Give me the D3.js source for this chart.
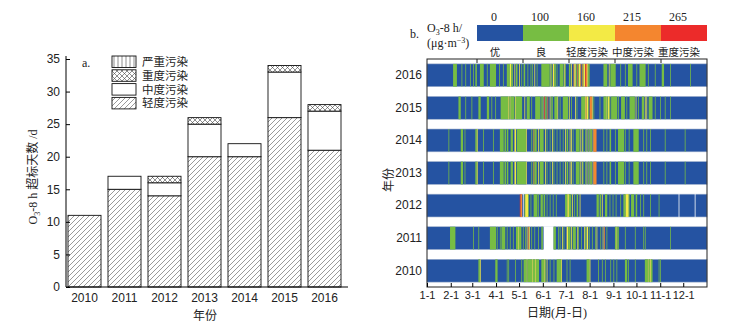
<!DOCTYPE html>
<html>
<head>
<meta charset="utf-8">
<script src="https://cdn.jsdelivr.net/npm/d3@7"></script>
<style>
  body { margin: 0; background: #fff; }
  svg { display: block; font-family: "Liberation Serif", "Times New Roman", "Noto Sans CJK SC", serif; }
  text { fill: #222; }
</style>
</head>
<body>
<svg id="chart" width="752" height="326"></svg>
<script>
// ---- panel a: exceedance days per year ----
const years = ['2010', '2011', '2012', '2013', '2014', '2015', '2016']
const lightDays = [11, 15, 14, 20, 20, 26, 21]
const moderateDays = [0, 2, 2, 5, 2, 7, 6]
const heavyDays = [0, 0, 1, 1, 0, 1, 1]
const severeDays = [0, 0, 0, 0, 0, 0, 0]
const yTicks = [0, 5, 10, 15, 20, 25, 30, 35]
const legendA = ['严重污染', '重度污染', '中度污染', '轻度污染']

// ---- panel b: daily O3-8h level, runs of [firstDay, lastDay, level] ----
// level 0 = missing, 1 = 良, 2 = 轻度污染, 3 = 中度污染, 4 = 重度污染 (rest of the year = 优)
const levelNames = ['优', '良', '轻度污染', '中度污染', '重度污染']
const levelBreaks = ['0', '100', '160', '215', '265']
const monthLabels = ['1-1', '2-1', '3-1', '4-1', '5-1', '6-1', '7-1', '8-1', '9-1', '10-1', '11-1', '12-1']
const monthStart = [0, 31, 59, 90, 120, 151, 181, 212, 243, 273, 304, 334]

const d2016 = [[34,38,1],[45,45,1],[50,50,1],[56,56,1],[60,60,1],[63,64,1],[69,73,1],[78,78,1],[82,89,1],[94,94,1],[99,99,1],[104,107,1],[108,109,2],[110,111,1],[114,114,2],[116,117,1],[120,120,2],[123,123,1],[126,127,1],[131,131,1],[135,135,1],[137,137,1],[140,140,2],[143,143,1],[149,159,1],[161,161,2],[162,162,1],[164,165,2],[166,167,1],[169,169,1],[173,177,1],[179,179,2],[180,180,1],[185,186,1],[188,188,2],[191,191,3],[192,193,2],[194,194,1],[196,196,3],[197,197,1],[198,199,2],[200,200,3],[202,202,3],[203,203,1],[204,205,2],[206,206,4],[207,208,3],[209,209,2],[210,211,1],[230,234,1],[237,237,2],[239,245,1],[252,252,1],[258,258,1],[262,267,1],[273,273,1],[277,284,1],[288,288,1],[297,297,1],[306,308,1],[317,317,1],[343,343,1]]
const d2015 = [[41,43,1],[50,50,1],[58,58,1],[67,69,1],[78,80,1],[84,84,1],[89,89,1],[96,105,1],[106,106,2],[107,107,1],[108,108,2],[109,113,1],[115,115,2],[116,123,1],[127,127,2],[130,133,1],[136,136,1],[141,147,1],[149,150,1],[152,152,2],[153,153,4],[154,155,1],[157,157,3],[160,160,2],[162,163,1],[166,169,1],[170,170,2],[173,173,1],[177,183,1],[185,185,2],[188,188,1],[193,193,2],[195,195,1],[201,205,1],[206,206,2],[207,207,3],[208,209,2],[210,210,1],[212,214,3],[215,215,2],[217,217,1],[225,225,1],[230,233,1],[234,234,2],[235,235,1],[236,237,2],[238,238,1],[240,247,1],[249,249,1],[253,257,1],[260,260,1],[264,270,1],[272,272,2],[275,275,1],[280,282,1],[284,284,2],[286,286,2],[289,293,1],[297,297,1],[304,304,1],[310,310,1],[317,317,1]]
const d2014 = [[28,28,1],[44,46,1],[49,49,1],[63,64,1],[65,65,2],[73,73,1],[86,86,1],[95,99,1],[101,102,1],[104,105,1],[109,111,1],[114,115,2],[117,128,1],[129,129,2],[136,136,1],[138,138,1],[139,139,3],[140,142,1],[145,145,2],[147,151,1],[154,154,2],[156,156,1],[160,160,1],[163,163,2],[165,165,1],[169,169,1],[173,173,1],[177,177,1],[180,180,2],[182,183,1],[186,186,2],[188,188,2],[190,190,1],[194,198,1],[200,200,2],[202,202,2],[203,203,1],[206,206,1],[208,208,2],[210,210,1],[212,212,2],[213,214,1],[216,216,2],[217,220,3],[230,230,1],[234,234,1],[238,239,1],[245,245,1],[249,256,1],[258,258,1],[263,263,1],[269,275,1],[282,282,1],[286,286,1],[291,291,1],[310,310,1],[336,336,1]]
const d2013 = [[28,28,1],[44,46,1],[49,49,1],[63,64,1],[65,65,2],[73,73,1],[86,86,1],[95,99,1],[101,102,1],[104,105,1],[109,111,1],[114,115,2],[117,128,1],[129,129,2],[136,136,1],[138,138,1],[139,139,3],[140,142,1],[145,145,2],[147,151,1],[154,154,2],[156,156,1],[160,160,1],[163,163,2],[165,165,1],[169,169,1],[173,173,1],[177,177,1],[180,180,2],[182,183,1],[186,186,2],[188,188,2],[190,190,1],[194,198,1],[200,200,2],[202,202,2],[203,203,1],[206,206,1],[208,208,2],[210,210,1],[212,212,2],[213,214,1],[216,216,2],[217,220,3],[230,230,1],[234,234,1],[238,239,1],[245,245,1],[249,256,1],[258,258,1],[263,263,1],[269,275,1],[282,282,1],[286,286,1],[291,291,1],[310,310,1],[336,336,1]]
const d2012 = [[121,121,4],[122,123,3],[125,125,0],[127,127,1],[128,131,2],[132,132,1],[135,135,1],[139,143,1],[145,145,1],[148,150,1],[152,153,1],[156,156,1],[160,160,1],[164,164,1],[168,168,1],[180,182,1],[183,184,2],[185,187,1],[189,189,2],[192,192,1],[195,196,1],[199,199,2],[221,223,1],[225,226,1],[228,228,2],[232,234,1],[238,238,1],[242,242,1],[246,246,1],[252,252,1],[256,258,1],[259,262,2],[263,263,1],[266,269,1],[272,273,1],[278,278,1],[282,282,1],[291,291,1],[302,302,1],[328,328,0],[349,349,0]]
const d2011 = [[30,36,1],[60,60,1],[67,67,1],[82,89,1],[91,91,1],[95,95,1],[97,101,1],[104,104,1],[108,108,1],[112,112,1],[116,118,1],[119,119,2],[120,122,1],[125,125,1],[128,128,1],[130,130,2],[132,132,3],[133,133,2],[136,136,1],[140,140,1],[145,145,1],[149,150,1],[152,164,0],[165,167,1],[171,171,1],[173,173,1],[176,176,2],[178,178,1],[182,183,2],[184,186,1],[188,188,2],[190,193,1],[196,196,2],[197,197,1],[201,201,1],[205,205,2],[206,206,1],[208,209,2],[211,211,1],[215,215,1],[219,219,1],[221,221,2],[226,226,1],[229,229,2],[231,231,3],[234,234,1],[245,246,1],[247,247,2],[248,249,1],[258,258,1],[271,271,1],[282,282,1],[284,284,1],[317,317,1]]
const d2010 = [[67,68,1],[69,69,2],[89,91,1],[104,104,1],[106,106,1],[115,115,1],[123,123,1],[126,129,1],[130,130,2],[131,136,1],[137,137,2],[138,140,1],[141,141,2],[142,145,1],[149,152,1],[153,153,2],[154,154,1],[156,156,2],[160,160,1],[165,165,1],[169,174,1],[175,175,2],[182,182,1],[186,186,1],[208,211,1],[212,212,2],[223,223,1],[228,228,1],[232,232,1],[239,239,1],[243,243,1],[247,247,1],[258,260,1],[262,262,1],[271,271,1],[284,287,1],[288,288,2],[289,290,1],[291,291,2],[292,293,1],[302,302,1],[304,304,1]]
const rowYears = ['2016', '2015', '2014', '2013', '2012', '2011', '2010']
const rowData = [d2016, d2015, d2014, d2013, d2012, d2011, d2010]

const levelColors = ['#ffffff', '#77bd43', '#f3ea45', '#f4862f', '#ec2b2a']
const blue = '#2553a2'

const svg = d3.select('#chart')
const defs = svg.append('defs')

// hatch patterns for panel a
const pLight = defs.append('pattern').attr('id', 'pLight')
    .attr('patternUnits', 'userSpaceOnUse').attr('width', 5).attr('height', 5)
pLight.append('rect').attr('width', 5).attr('height', 5).attr('fill', '#fff')
pLight.append('path').attr('d', 'M0,5L5,0M-1,1L1,-1M4,6L6,4')
    .attr('stroke', '#555').attr('stroke-width', 0.6)

const pHeavy = defs.append('pattern').attr('id', 'pHeavy')
    .attr('patternUnits', 'userSpaceOnUse').attr('width', 5).attr('height', 5)
pHeavy.append('rect').attr('width', 5).attr('height', 5).attr('fill', '#fff')
pHeavy.append('path').attr('d', 'M0,5L5,0M-1,1L1,-1M4,6L6,4M0,0L5,5M-1,4L1,6M4,-1L6,1')
    .attr('stroke', '#444').attr('stroke-width', 0.6)

const pSevere = defs.append('pattern').attr('id', 'pSevere')
    .attr('patternUnits', 'userSpaceOnUse').attr('width', 4).attr('height', 4)
pSevere.append('rect').attr('width', 4).attr('height', 4).attr('fill', '#fff')
pSevere.append('path').attr('d', 'M2,0L2,4').attr('stroke', '#444').attr('stroke-width', 0.6)

const fills = {light: 'url(#pLight)', moderate: '#fff', heavy: 'url(#pHeavy)', severe: 'url(#pSevere)'}

// ================= panel a =================
const x = d3.scaleBand().domain(years).range([66, 343]).paddingInner(0.175).paddingOuter(0.05)
const y = d3.scaleLinear().domain([0, 35]).range([287, 59])

const table = years.map((yr, i) => ({
    year: yr, light: lightDays[i], moderate: moderateDays[i], heavy: heavyDays[i], severe: severeDays[i]
}))
const series = d3.stack().keys(['light', 'moderate', 'heavy', 'severe'])(table)

const ga = svg.append('g')
ga.selectAll('g.layer')
    .data(series)
    .join('g')
    .attr('class', 'layer')
    .attr('fill', d => fills[d.key])
    .selectAll('rect')
    .data(d => d.filter(s => s[1] > s[0]))
    .join('rect')
    .attr('x', d => x(d.data.year))
    .attr('y', d => y(d[1]))
    .attr('width', x.bandwidth())
    .attr('height', d => y(d[0]) - y(d[1]))
    .attr('stroke', '#111')
    .attr('stroke-width', 0.9)

const yAxis = ga.append('g').attr('transform', 'translate(66,0)')
    .call(d3.axisLeft(y).tickValues(yTicks).tickSizeInner(-4).tickSizeOuter(0).tickPadding(6))
yAxis.select('.domain').attr('d', 'M0,287V56')
yAxis.selectAll('text').style('font-size', '12px')

const xAxis = ga.append('g').attr('transform', 'translate(0,287)')
    .call(d3.axisBottom(x).tickSize(0).tickPadding(6))
xAxis.select('.domain').attr('d', 'M66,0H348')
xAxis.selectAll('text').style('font-size', '12px')

ga.append('text').attr('x', 205).attr('y', 320).attr('text-anchor', 'middle')
    .style('font-size', '12px').text('年份')

const yLab = ga.append('text')
    .attr('transform', 'translate(37,177) rotate(-90)')
    .attr('text-anchor', 'middle')
    .style('font-size', '12px')
yLab.append('tspan').text('O')
yLab.append('tspan').attr('dy', 3).style('font-size', '8px').text('3')
yLab.append('tspan').attr('dy', -3).text('-8 h 超标天数 /d')

ga.append('text').attr('x', 82).attr('y', 67).style('font-size', '12px').text('a.')

const legA = ga.append('g').attr('transform', 'translate(112,56)')
const legFill = [fills.severe, fills.heavy, fills.moderate, fills.light]
legA.selectAll('rect')
    .data(legendA)
    .join('rect')
    .attr('x', 0)
    .attr('y', (d, i) => i * 13.8)
    .attr('width', 24)
    .attr('height', 11.5)
    .attr('fill', (d, i) => legFill[i])
    .attr('stroke', '#111')
    .attr('stroke-width', 0.9)
legA.selectAll('text')
    .data(legendA)
    .join('text')
    .attr('x', 30)
    .attr('y', (d, i) => i * 13.8 + 10)
    .style('font-size', '11.5px')
    .text(d => d)

// ================= panel b =================
const day = d3.scaleLinear().domain([0, 365]).range([427, 707])
const row = d3.scaleBand().domain(rowYears).range([59, 287]).paddingInner(0.3).paddingOuter(0.15)
const gb = svg.append('g')

const rows = gb.selectAll('g.row')
    .data(rowYears)
    .join('g')
    .attr('class', 'row')
    .attr('transform', d => `translate(0,${row(d)})`)

rows.append('rect')
    .attr('x', day(0))
    .attr('width', day(365) - day(0))
    .attr('height', row.bandwidth())
    .attr('fill', blue)
    .attr('stroke', '#9fb0cc')
    .attr('stroke-width', 0.6)

rows.selectAll('rect.run')
    .data((d, i) => rowData[i])
    .join('rect')
    .attr('class', 'run')
    .attr('x', d => day(d[0]))
    .attr('width', d => day(d[1] + 1) - day(d[0]))
    .attr('y', d => d[2] === 0 ? -0.5 : 0)
    .attr('height', d => d[2] === 0 ? row.bandwidth() + 1 : row.bandwidth())
    .attr('fill', d => levelColors[d[2]])

// frame
gb.append('rect').attr('x', 427).attr('y', 59).attr('width', 280).attr('height', 228)
    .attr('fill', 'none').attr('stroke', '#222').attr('stroke-width', 1)

const rowAxis = gb.append('g').attr('transform', 'translate(427,0)')
    .call(d3.axisLeft(row).tickSize(0).tickPadding(5))
rowAxis.select('.domain').remove()
rowAxis.selectAll('text').style('font-size', '12px')

const dayAxis = gb.append('g').attr('transform', 'translate(0,287)')
    .call(d3.axisBottom(day).tickValues(monthStart).tickFormat((d, i) => monthLabels[i])
        .tickSizeInner(-4).tickSizeOuter(0).tickPadding(4))
dayAxis.select('.domain').remove()
dayAxis.selectAll('text').style('font-size', '11px')

gb.append('text').attr('x', 557).attr('y', 317).attr('text-anchor', 'middle')
    .style('font-size', '12px').text('日期(月-日)')
gb.append('text').attr('transform', 'translate(393,180) rotate(-90)').attr('text-anchor', 'middle')
    .style('font-size', '12px').text('年份')

// color legend on top
const leg = d3.scaleBand().domain(levelNames).range([477, 707])
const legColors = [blue, levelColors[1], levelColors[2], levelColors[3], levelColors[4]]
gb.selectAll('rect.leg')
    .data(levelNames)
    .join('rect')
    .attr('class', 'leg')
    .attr('x', d => leg(d))
    .attr('y', 25)
    .attr('width', leg.bandwidth())
    .attr('height', 16)
    .attr('fill', (d, i) => legColors[i])
gb.selectAll('text.brk')
    .data(levelBreaks)
    .join('text')
    .attr('class', 'brk')
    .attr('x', (d, i) => leg(levelNames[i]) + leg.bandwidth() / 2 - 6)
    .attr('y', 21)
    .attr('text-anchor', 'middle')
    .style('font-size', '12px')
    .text(d => d)
gb.selectAll('text.lvl')
    .data(levelNames)
    .join('text')
    .attr('class', 'lvl')
    .attr('x', d => leg(d) + leg.bandwidth() / 2 - 5)
    .attr('y', 56)
    .attr('text-anchor', 'middle')
    .style('font-size', '10.5px')
    .text(d => d)
gb.selectAll('line.legtick')
    .data(levelNames)
    .join('line')
    .attr('class', 'legtick')
    .attr('x1', d => leg(d)).attr('x2', d => leg(d))
    .attr('y1', 59).attr('y2', 63)
    .attr('stroke', '#222')

gb.append('text').attr('x', 410).attr('y', 38).style('font-size', '12px').text('b.')
const unit1 = gb.append('text').attr('x', 427).attr('y', 32).style('font-size', '12px')
unit1.append('tspan').text('O')
unit1.append('tspan').attr('dy', 3).style('font-size', '8px').text('3')
unit1.append('tspan').attr('dy', -3).text('-8 h/')
const unit2 = gb.append('text').attr('x', 427).attr('y', 47).style('font-size', '12px')
unit2.append('tspan').text('(μg·m')
unit2.append('tspan').attr('dy', -4).style('font-size', '8px').text('−3')
unit2.append('tspan').attr('dy', 4).text(')')
</script>
</body>
</html>
